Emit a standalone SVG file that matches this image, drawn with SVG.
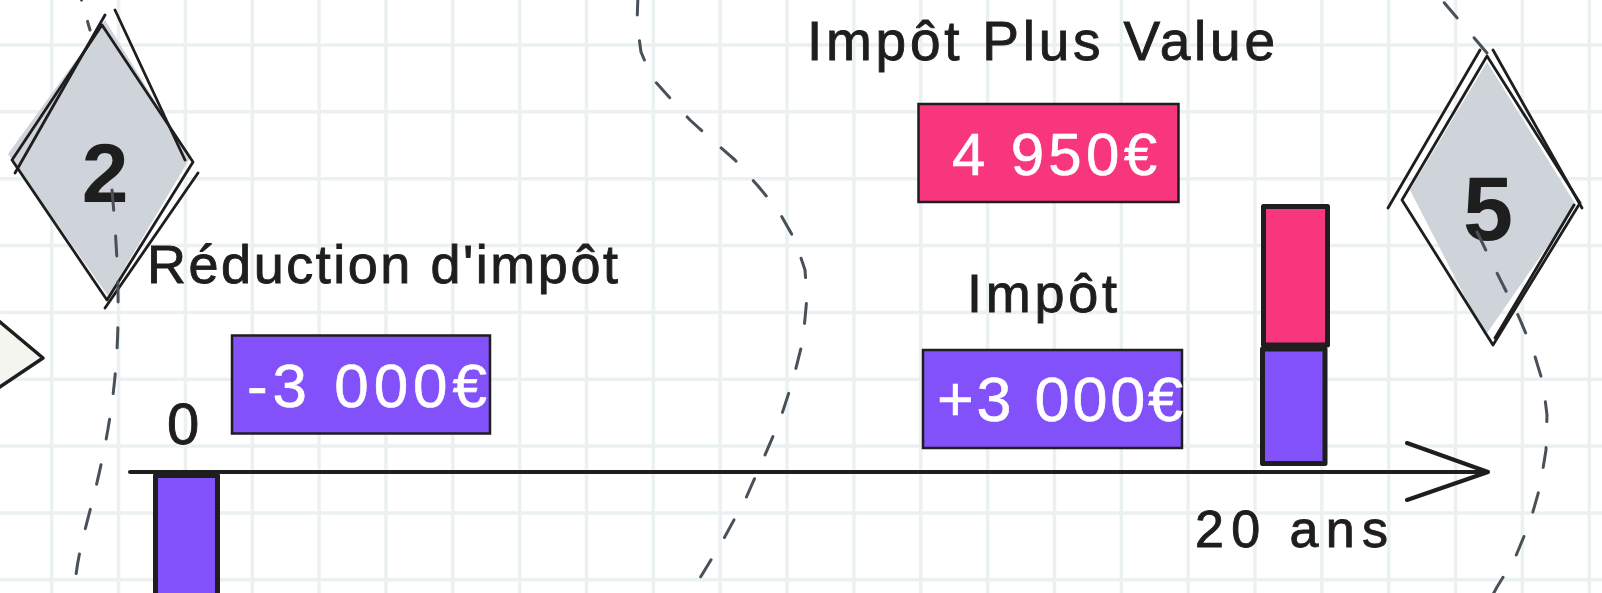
<svg xmlns="http://www.w3.org/2000/svg" width="1602" height="593" viewBox="0 0 1602 593">
<style>
.lbl{font-family:"Liberation Sans",Arial,sans-serif;fill:#1e1e1e;stroke:#1e1e1e;stroke-width:0.9}
.num{font-family:"Liberation Sans",Arial,sans-serif;fill:#1e1e1e;font-weight:bold}
.val{font-family:"Liberation Sans",Arial,sans-serif;fill:#ffffff;stroke:#ffffff;stroke-width:0.6}
.grid{fill:none;stroke:#ebf1f1;stroke-width:3.5}
.dash{fill:none;stroke:#495057;stroke-width:3;stroke-dasharray:20 26;stroke-linecap:round;stroke-linejoin:round}
.box{stroke:#1e1e1e;stroke-width:2.5}
.bar{stroke:#1e1e1e;stroke-width:5;stroke-linejoin:round}
.violet{fill:#8351f9}
.pink{fill:#f8367e}
.dia{fill:#ced4da}
.sk{fill:none;stroke:#1e1e1e;stroke-width:2.8;stroke-linecap:round;stroke-linejoin:round}
.axis{fill:none;stroke:#1e1e1e;stroke-width:4;stroke-linecap:round;stroke-linejoin:round}
</style>
<rect x="0" y="0" width="1602" height="593" fill="#ffffff"/>
<path class="grid" d="M-15.15,0V593 M51.7,0V593 M118.55,0V593 M185.4,0V593 M252.25,0V593 M319.1,0V593 M385.95,0V593 M452.8,0V593 M519.65,0V593 M586.5,0V593 M653.35,0V593 M720.2,0V593 M787.05,0V593 M853.9,0V593 M920.75,0V593 M987.6,0V593 M1054.45,0V593 M1121.3,0V593 M1188.15,0V593 M1255,0V593 M1321.85,0V593 M1388.7,0V593 M1455.55,0V593 M1522.4,0V593 M1589.25,0V593 M0,45H1602 M0,111.85H1602 M0,178.7H1602 M0,245.55H1602 M0,312.4H1602 M0,379.25H1602 M0,446.1H1602 M0,512.95H1602 M0,579.8H1602"/>

<g id="node-triangle">
<polygon points="-30,297 43,358 -30,407" fill="#f5f5f0" stroke="#1e1e1e" stroke-width="3.5" stroke-linejoin="round"/>
</g>

<g id="node-diamond-2">
<polygon class="dia" points="105,20 190,158 108,296 8,154"/>
<path class="sk" d="M102,25 L193,162 L107,300 L12,160 Z"/>
<path class="sk" d="M15,173 L105,15 M115,10 L185,160 M198,173 L105,308"/>
<text class="num" x="105" y="202" font-size="84" text-anchor="middle">2</text>
</g>

<g id="node-diamond-5">
<polygon class="dia" points="1487,62 1576,205 1485,336 1410,190"/>
<path class="sk" d="M1487,56 L1580,203 L1493,345 L1402,200 Z"/>
<path class="sk" d="M1388,208 L1480,50 M1493,50 L1582,208 M1574,205 L1495,338"/>
<text class="num" x="1488" y="240" font-size="90" text-anchor="middle">5</text>
</g>

<g id="label-reduction">
<text class="lbl" x="147" y="283" font-size="54" textLength="471">Réduction d'impôt</text>
</g>

<g id="label-plus-value">
<text class="lbl" x="807" y="60" font-size="55" textLength="468">Impôt Plus Value</text>
</g>

<g id="label-impot">
<text class="lbl" x="967" y="312" font-size="54" textLength="150">Impôt</text>
</g>

<g id="label-zero">
<text class="lbl" x="167" y="444" font-size="58" textLength="30">0</text>
</g>

<g id="label-20ans">
<text class="lbl" x="1195" y="547" font-size="52" textLength="193">20 ans</text>
</g>

<g id="box-reduction">
<rect class="box violet" x="232" y="335.5" width="258" height="98"/>
<text class="val" x="247" y="407" font-size="62" textLength="240">-3 000€</text>
</g>

<g id="box-impot">
<rect class="box violet" x="923" y="350" width="259" height="98"/>
<text class="val" x="937" y="421" font-size="63" textLength="246">+3 000€</text>
</g>

<g id="box-plus-value">
<rect class="box pink" x="918.5" y="104" width="260" height="98"/>
<text class="val" x="952" y="175" font-size="60" textLength="205">4 950€</text>
</g>

<g id="bar-zero">
<rect class="bar violet" x="155.5" y="475.5" width="62" height="140"/>
</g>

<g id="bar-20">
<rect class="bar pink" x="1263.5" y="206.5" width="64" height="138.5"/>
<rect class="bar violet" x="1262.5" y="349" width="62.5" height="114.5"/>
</g>

<g id="connectors">
<path class="axis" d="M130,472 L1488,472 M1407,443 L1488,472 L1407,500"/>
<path class="dash" d="M90,30 L70,-40" style="stroke-dasharray:9 22"/>
<path class="dash" d="M112,190 C121,290 121,360 106,440 S76,545 74,600"/>
<path class="dash" d="M638,-5 L637,23 L641,52 L652,78 L670,98 L690,120 L712,140 L735,160 L758,186 L778,210 L795,240 L805,270 L807,297 L803,340 L793,380 L780,420 L765,455 L746,498 L723,540 L700,578 L688,598"/>
<path class="dash" d="M1487,53 L1430,-14"/>
<path class="dash" d="M1477,232 L1497,273 L1518,315 L1533,350 L1543,383 L1547,415 L1546,450 L1540,487 L1530,522 L1515,558 L1497,587 L1490,600"/>
</g>
</svg>
